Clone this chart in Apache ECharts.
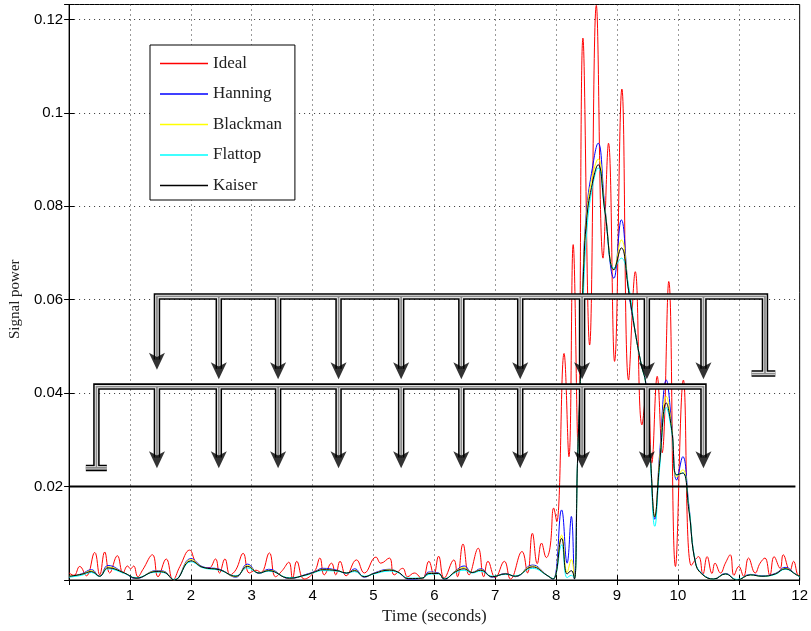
<!DOCTYPE html>
<html><head><meta charset="utf-8">
<script src="https://cdn.jsdelivr.net/npm/echarts@6/dist/echarts.min.js"></script>
<style>html,body{margin:0;padding:0;background:#fff}#c{width:811px;height:631px}</style>
</head><body><div id="c"></div>
<script>
// ---------- data ----------
const seriesNames = ['Ideal', 'Hanning', 'Blackman', 'Flattop', 'Kaiser'];
const seriesColors = ['#ff0000', '#0000ff', '#ffff00', '#00ffff', '#000000'];
const xTicks = [1,2,3,4,5,6,7,8,9,10,11,12];
const yTicks = [0.02,0.04,0.06,0.08,0.1,0.12];

const idealTimes = [0,0.08,0.175,0.285,0.421,0.503,0.585,0.667,0.793,0.885,0.96,1.01,1.06,1.13,1.21,1.37,1.46,1.596,1.706,1.82,1.979,2.088,2.2,2.30,2.405,2.47,2.56,2.645,2.74,2.86,2.96,3.07,3.15,3.29,3.39,3.50,3.61,3.67,3.74,3.86,4.03,4.12,4.19,4.31,4.38,4.45,4.55,4.72,4.85,5.04,5.12,5.26,5.34,5.48,5.56,5.67,5.80,5.91,5.99,6.07,6.16,6.32,6.38,6.47,6.57,6.72,6.81,6.88,7.00,7.15,7.25,7.44,7.53,7.61,7.69,7.76,7.84,7.90,7.96,8.01,8.13,8.21,8.28,8.36,8.44,8.55,8.66,8.77,8.86,8.96,9.08,9.19,9.30,9.41,9.50,9.57,9.66,9.74,9.85,9.96,10.09,10.22,10.34,10.41,10.48,10.56,10.61,10.70,10.78,10.86,10.92,11.00,11.08,11.16,11.27,11.35,11.43,11.51,11.58,11.68,11.73,11.84,11.90,11.98,12];
const idealValues = [0.0015,0.0010,0.0029,0.0009,0.0059,0.0011,0.0060,0.0015,0.0052,0.0015,0.0030,0.0024,0.0030,0.0007,0.0022,0.0054,0.0007,0.0045,0.0000,0.0029,0.0064,0.0036,0.0027,0.0026,0.0045,0.0015,0.0045,0.0011,0.0022,0.0057,0.0015,0.0021,0.0016,0.0058,0.0007,0.0020,0.0038,0.0004,0.0040,0.0002,0.0018,0.0047,0.0011,0.0036,0.0011,0.0040,0.0009,0.0043,0.0015,0.0049,0.0036,0.0047,0.0011,0.0025,0.0007,0.0015,0.0002,0.0040,0.0011,0.0051,0.0004,0.0043,0.0007,0.0077,0.0011,0.0068,0.0007,0.0040,0.0005,0.0040,0.0002,0.0061,0.0015,0.0100,0.0035,0.0079,0.0048,0.0070,0.0154,0.0125,0.0485,0.0264,0.0718,0.0286,0.1160,0.0503,0.1230,0.0689,0.0935,0.0468,0.1051,0.0428,0.0660,0.0332,0.0420,0.0250,0.0436,0.0272,0.0639,0.0029,0.0428,0.0031,0.0050,0.0012,0.0050,0.0014,0.0036,0.0015,0.0036,0.0054,0.0010,0.0029,0.0008,0.0047,0.0015,0.0036,0.0047,0.0010,0.0050,0.0025,0.0054,0.0020,0.0040,0.0010,0.0012];

const smoothTimes = [0,0.2,0.37,0.5,0.64,0.91,1.1,1.43,1.55,1.73,2.0,2.2,2.47,2.74,2.93,3.12,3.28,3.62,3.89,4.05,4.16,4.4,4.56,4.69,4.85,5.01,5.26,5.4,5.58,5.8,5.91,6.07,6.16,6.35,6.49,6.62,6.76,6.95,7.17,7.33,7.61,7.85,7.95,8.09,8.18,8.25,8.30,8.35,8.40,8.45,8.50,8.58,8.69,8.80,8.95,9.07,9.19,9.30,9.40,9.47,9.55,9.62,9.70,9.81,9.90,9.98,10.08,10.18,10.29,10.41,10.59,10.78,10.97,11.19,11.38,11.6,11.76,11.95,12];
const hanningValues = [0.0007,0.0013,0.0022,0.0008,0.0031,0.0015,0.0003,0.0020,0.0019,0.0000,0.0046,0.0028,0.0023,0.0006,0.0034,0.0014,0.0023,0.0003,0.0012,0.0019,0.0025,0.0021,0.0014,0.0024,0.0006,0.0015,0.0023,0.0017,0.0002,0.0004,0.0017,0.0015,0.0001,0.0020,0.0030,0.0016,0.0024,0.0006,0.0014,0.0007,0.0032,0.0010,0.0001,0.0150,0.0036,0.0136,0.0003,0.0243,0.0428,0.0680,0.0790,0.0870,0.0935,0.0800,0.0646,0.0771,0.0620,0.0530,0.0460,0.0425,0.0260,0.0130,0.0270,0.0428,0.0330,0.0214,0.0264,0.0160,0.0036,0.0012,0.0002,0.0014,0.0000,0.0012,0.0009,0.0014,0.0027,0.0011,0.0007];
const blackmanValues = [0.0008,0.0012,0.0020,0.0008,0.0028,0.0015,0.0004,0.0019,0.0018,0.0000,0.0044,0.0027,0.0022,0.0007,0.0031,0.0015,0.0021,0.0004,0.0011,0.0018,0.0023,0.0020,0.0015,0.0021,0.0007,0.0014,0.0022,0.0017,0.0003,0.0004,0.0015,0.0014,0.0002,0.0019,0.0027,0.0016,0.0022,0.0007,0.0013,0.0008,0.0030,0.0010,0.0002,0.0096,0.0016,0.0044,0.0004,0.0245,0.0435,0.0670,0.0780,0.0855,0.0901,0.0795,0.0664,0.0728,0.0625,0.0530,0.0460,0.0422,0.0260,0.0135,0.0260,0.0393,0.0325,0.0220,0.0236,0.0155,0.0036,0.0011,0.0002,0.0013,0.0000,0.0011,0.0008,0.0013,0.0025,0.0011,0.0008];
const flattopValues = [0.0006,0.0010,0.0016,0.0008,0.0024,0.0014,0.0005,0.0017,0.0016,0.0001,0.0039,0.0026,0.0021,0.0009,0.0026,0.0015,0.0019,0.0005,0.0010,0.0017,0.0020,0.0019,0.0015,0.0018,0.0008,0.0013,0.0019,0.0016,0.0004,0.0004,0.0012,0.0013,0.0003,0.0016,0.0021,0.0015,0.0019,0.0008,0.0012,0.0009,0.0025,0.0010,0.0003,0.0075,0.0005,0.0010,0.0004,0.0250,0.0440,0.0620,0.0740,0.0830,0.0882,0.0790,0.0667,0.0689,0.0630,0.0530,0.0460,0.0420,0.0250,0.0115,0.0240,0.0369,0.0315,0.0225,0.0229,0.0155,0.0038,0.0012,0.0002,0.0013,0.0001,0.0011,0.0008,0.0012,0.0023,0.0011,0.0006];
const kaiserValues = [0.0008,0.0012,0.0018,0.0008,0.0026,0.0015,0.0004,0.0018,0.0017,0.0000,0.0041,0.0027,0.0022,0.0008,0.0029,0.0015,0.0020,0.0004,0.0011,0.0018,0.0022,0.0020,0.0015,0.0020,0.0007,0.0014,0.0021,0.0017,0.0003,0.0004,0.0014,0.0014,0.0002,0.0018,0.0024,0.0016,0.0021,0.0007,0.0013,0.0008,0.0028,0.0010,0.0002,0.0089,0.0013,0.0020,0.0002,0.0250,0.0440,0.0660,0.0770,0.0840,0.0889,0.0790,0.0664,0.0711,0.0620,0.0530,0.0460,0.0422,0.0260,0.0135,0.0250,0.0379,0.0320,0.0225,0.0229,0.0150,0.0036,0.0011,0.0002,0.0013,0.0000,0.0011,0.0008,0.0013,0.0024,0.0011,0.0008];

// threshold line
const thresholdLevel = 0.02;
const thresholdRange = [0, 11.93];

// annotation (double-line arrow diagram), in data units
const upperBusLevel = 0.0607;
const upperBusRange = [1.443, 11.43];
const upperGround = {level: 0.0442, from: 11.21, to: 11.60};
const upperDropTimes = [2.459, 3.433, 4.426, 5.454, 6.443, 7.41, 8.426, 9.49, 10.42];
const upperShaftEnd = 0.0452;
const upperTip = 0.0430;
const upperFirstTip = 0.0450;
const lowerBusLevel = 0.0414;
const lowerBusRange = [0.449, 10.42];
const lowerGround = {level: 0.0240, from: 0.275, to: 0.62};
const lowerDropTimes = [1.443, 2.459, 3.433, 4.426, 5.454, 6.443, 7.41, 8.426, 9.49];
const lowerShaftEnd = 0.0262;
const lowerTip = 0.0239;

// ---------- build ----------
const idealData = idealTimes.map((t, i) => [t, idealValues[i]]);
const mk = vals => smoothTimes.map((t, i) => [t, vals[i]]);
const dataSets = [idealData, mk(hanningValues), mk(blackmanValues), mk(flattopValues), mk(kaiserValues)];

const path = [];
const br = () => path.push([null, null]);
path.push([upperBusRange[0], upperFirstTip + 0.0022], [upperBusRange[0], upperBusLevel], [upperBusRange[1], upperBusLevel], [upperBusRange[1], upperGround.level]); br();
path.push([upperGround.from, upperGround.level], [upperGround.to, upperGround.level]); br();
upperDropTimes.forEach(t => { path.push([t, upperBusLevel], [t, upperShaftEnd]); br(); });
path.push([lowerGround.from, lowerGround.level], [lowerGround.to, lowerGround.level]); br();
path.push([lowerBusRange[0], lowerGround.level], [lowerBusRange[0], lowerBusLevel], [lowerBusRange[1], lowerBusLevel], [lowerBusRange[1], lowerShaftEnd]); br();
lowerDropTimes.forEach(t => { path.push([t, lowerBusLevel], [t, lowerShaftEnd]); br(); });

const tips = [[upperBusRange[0], upperFirstTip]]
  .concat(upperDropTimes.map(t => [t, upperTip]))
  .concat(lowerDropTimes.map(t => [t, lowerTip]))
  .concat([[lowerBusRange[1], lowerTip]]);

const serif = 'Liberation Serif';
const sans = 'Liberation Sans';
const chart = echarts.init(document.getElementById('c'), null, {renderer: 'canvas'});

const series = seriesNames.map((n, i) => ({
  name: n, type: 'line', data: dataSets[i], showSymbol: false, symbol: 'none',
  smooth: 0.45, lineStyle: {color: seriesColors[i], width: 1}, itemStyle: {color: seriesColors[i]},
  z: 2 + i, animation: false, clip: true
}));
series.push({
  type: 'line', data: [[thresholdRange[0], thresholdLevel], [thresholdRange[1], thresholdLevel]],
  symbol: 'none', lineStyle: {color: '#000', width: 2}, z: 10, animation: false
});
[['#000', 6.5], ['#fff', 3.4], ['#8c8c8c', 1.8]].forEach(([c, w], k) => {
  series.push({
    type: 'line', data: path, symbol: 'none', connectNulls: false,
    lineStyle: {color: c, width: w, cap: 'butt', join: 'miter'}, z: 11 + k, animation: false
  });
});
series.push({
  type: 'scatter', data: tips, symbol: 'arrow', symbolRotate: 180, symbolSize: [12, 17],
  itemStyle: {color: '#000'}, z: 15, animation: false
});

chart.setOption({
  animation: false,
  backgroundColor: '#fff',
  grid: {left: 69, right: 9.5, top: 4.5, bottom: 51, show: true, borderColor: '#000', borderWidth: 1, backgroundColor: 'transparent'},
  legend: {
    data: seriesNames, orient: 'vertical', left: 150, top: 45,
    icon: 'path://M0,0 L48,0 L48,1.3 L0,1.3 Z',
    itemWidth: 48, itemHeight: 14, itemGap: 13.5, padding: [10, 13, 6, 10],
    borderColor: '#000', borderWidth: 1, backgroundColor: '#fff',
    textStyle: {fontFamily: serif, fontSize: 17, color: '#222'}, z: 20
  },
  xAxis: [{
    type: 'value', min: 0, max: 12, interval: 1, position: 'bottom',
    name: 'Time (seconds)', nameLocation: 'middle', nameGap: 27,
    nameTextStyle: {fontFamily: serif, fontSize: 17, color: '#222'},
    axisLine: {show: true, lineStyle: {color: '#000'}},
    axisTick: {show: true, inside: true, length: 5, lineStyle: {color: '#000'}},
    axisLabel: {fontFamily: sans, fontSize: 15, color: '#000', margin: 8, showMinLabel: false,
      formatter: v => xTicks.includes(v) ? String(v) : ''},
    splitLine: {show: true, lineStyle: {color: '#333', type: [1, 4], width: 1}}
  }, {
    type: 'value', min: 0, max: 12, interval: 1, position: 'top',
    axisLine: {show: true, lineStyle: {color: '#000'}},
    axisTick: {show: true, inside: true, length: 5, lineStyle: {color: '#000'}},
    axisLabel: {show: false}, splitLine: {show: false}
  }],
  yAxis: [{
    type: 'value', min: 0, max: 0.1232, interval: 0.02, position: 'left',
    name: 'Signal power', nameLocation: 'middle', nameGap: 40, nameRotate: 90,
    nameTextStyle: {fontFamily: serif, fontSize: 15, color: '#222', padding: [0, 14, 0, 0]},
    axisLine: {show: true, lineStyle: {color: '#000'}},
    axisTick: {show: true, inside: true, length: 5, lineStyle: {color: '#000'}},
    axisLabel: {fontFamily: sans, fontSize: 15, color: '#000', margin: 6, showMinLabel: false, showMaxLabel: false,
      formatter: v => { const m = yTicks.find(t => Math.abs(t - v) < 1e-9); return m === undefined ? '' : String(m); }},
    splitLine: {show: true, lineStyle: {color: '#333', type: [1, 4], width: 1}}
  }, {
    type: 'value', min: 0, max: 0.1232, interval: 0.02, position: 'right',
    axisLine: {show: true, lineStyle: {color: '#000'}},
    axisTick: {show: true, inside: true, length: 5, lineStyle: {color: '#000'}},
    axisLabel: {show: false}, splitLine: {show: false}
  }],
  series: series
});
</script></body></html>
